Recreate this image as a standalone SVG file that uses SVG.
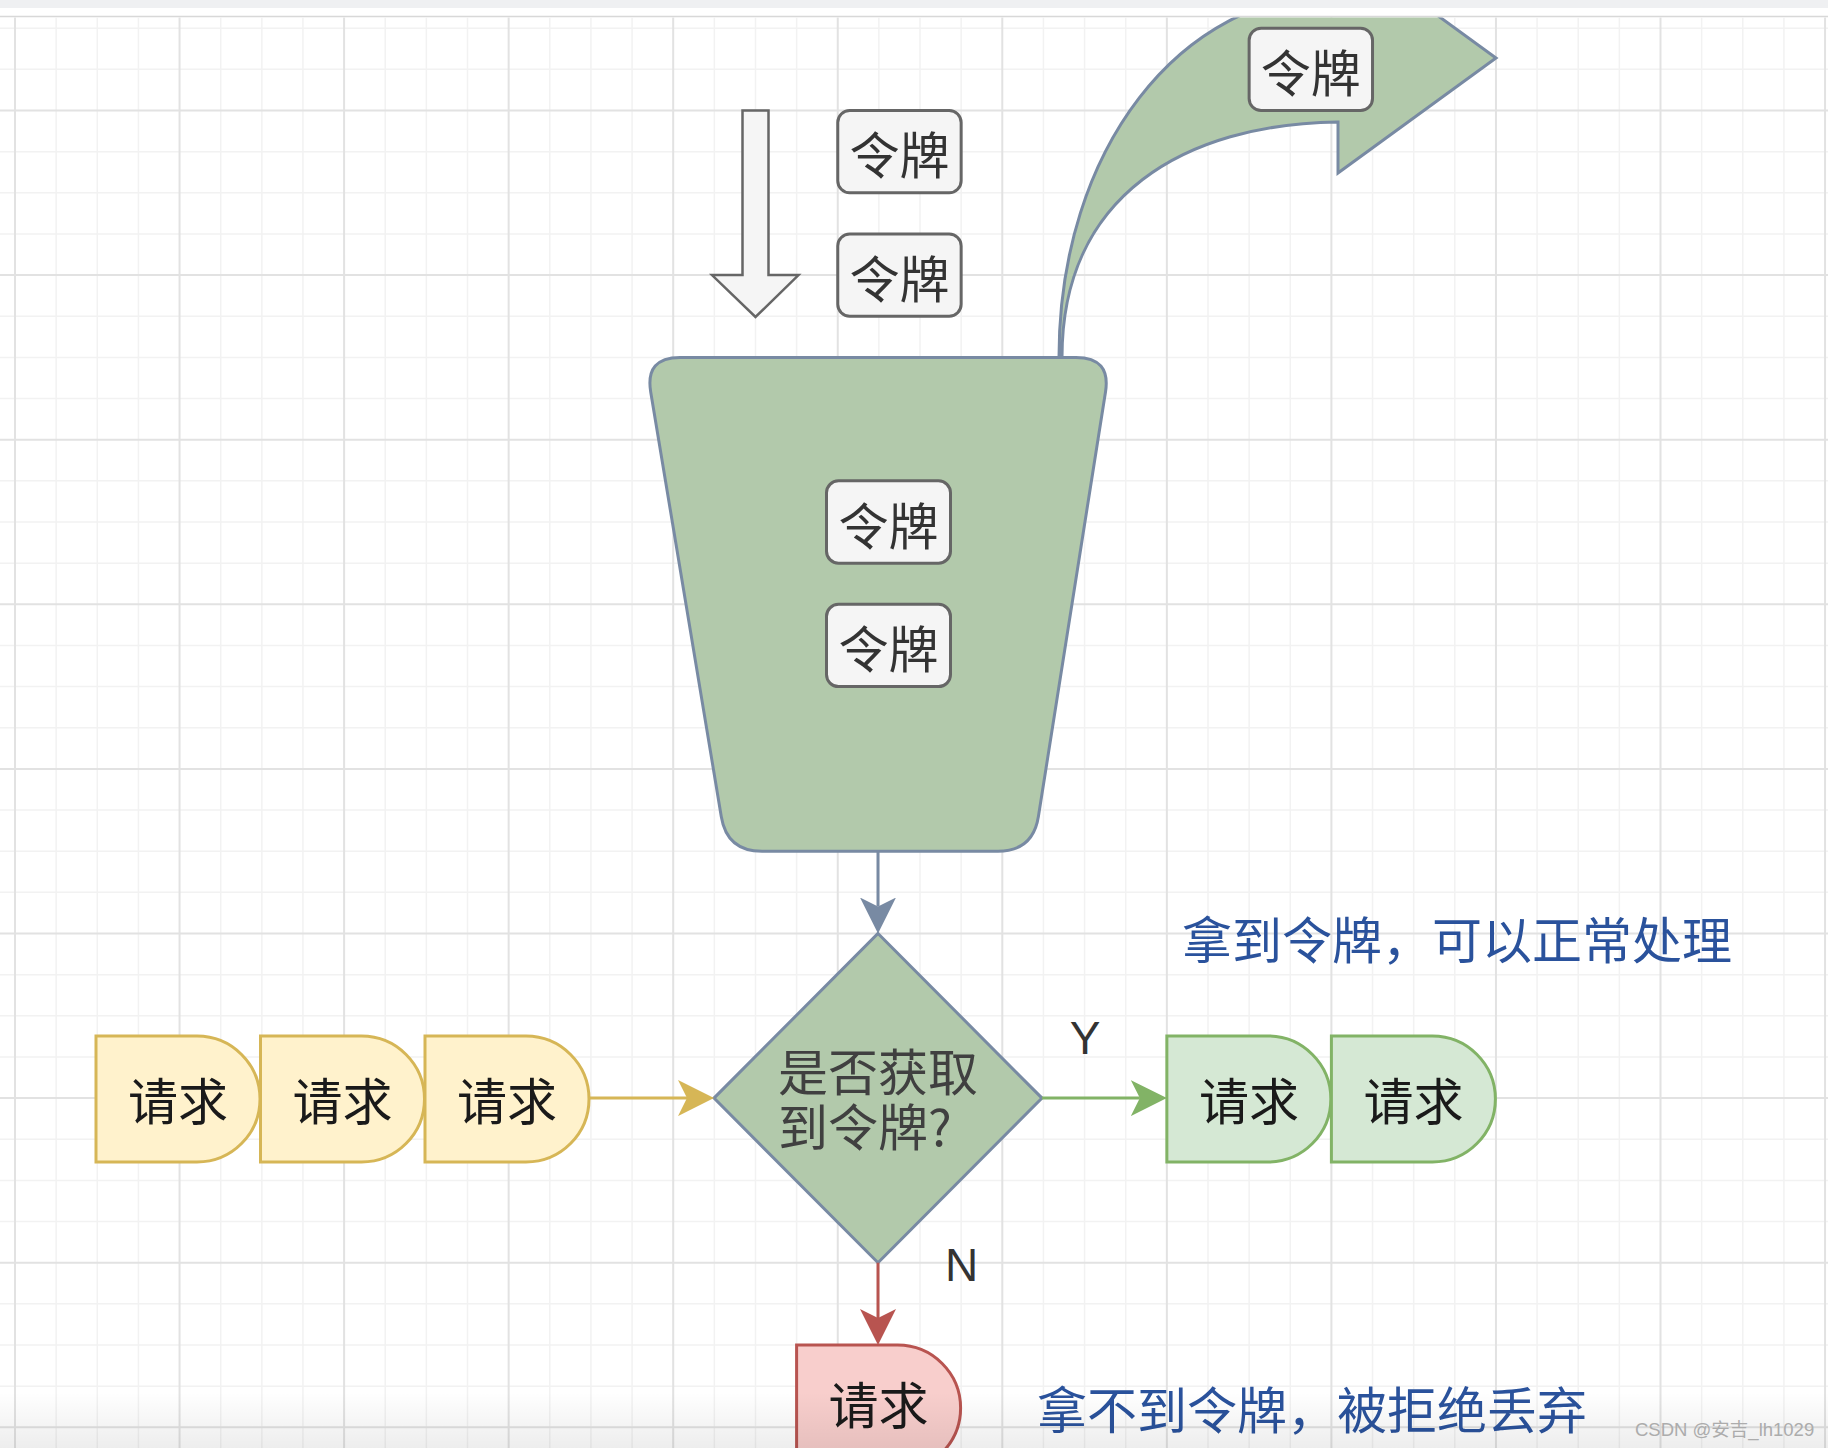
<svg xmlns="http://www.w3.org/2000/svg" width="1828" height="1448" viewBox="0 0 1828 1448">
  <style>
    .grid-minor { stroke: #f2f2f2; stroke-width: 1.5; fill: none; }
    .grid-major { stroke: #e2e2e2; stroke-width: 2; fill: none; }
    .token rect { fill: #f5f5f5; stroke: #666666; stroke-width: 3; }
    .token text { font-family: 'Noto Sans CJK SC', 'Noto Sans', sans-serif; font-size: 50px; fill: #333333; text-anchor: middle; }
    .req text { font-family: 'Noto Sans CJK SC', 'Noto Sans', sans-serif; font-size: 50px; fill: #1a1a1a; text-anchor: middle; }
    .req-y path { fill: #fff2cc; stroke: #d6b656; stroke-width: 3; }
    .req-g path { fill: #d5e8d4; stroke: #82b366; stroke-width: 3; }
    .req-r path { fill: #f8cecc; stroke: #b85450; stroke-width: 3; }
    .green-shape { fill: #b2c9ab; stroke: #788aa3; stroke-width: 3; }
    .note { font-family: 'Noto Sans CJK SC', 'Noto Sans', sans-serif; font-size: 50px; fill: #2a529c; }
    .lbl { font-family: 'Liberation Sans', Arial, sans-serif; font-size: 46px; fill: #333333; text-anchor: middle; }
    .conn { fill: none; stroke-width: 3; }
  </style>
  <defs>
    <clipPath id="canvasClip"><rect x="0" y="17.5" width="1828" height="1431"/></clipPath>
    <linearGradient id="bottomShade" x1="0" y1="0" x2="0" y2="1">
      <stop offset="0" stop-color="#000000" stop-opacity="0"/>
      <stop offset="1" stop-color="#000000" stop-opacity="0.07"/>
    </linearGradient>
    <marker id="mBlue" viewBox="0 0 36 36" markerWidth="36" markerHeight="36" refX="9" refY="18" orient="auto" markerUnits="userSpaceOnUse"><path d="M0,0 L36,18 L0,36 L9,18 Z" fill="#788aa3"/></marker>
    <marker id="mYellow" viewBox="0 0 36 36" markerWidth="36" markerHeight="36" refX="9" refY="18" orient="auto" markerUnits="userSpaceOnUse"><path d="M0,0 L36,18 L0,36 L9,18 Z" fill="#d6b656"/></marker>
    <marker id="mGreen" viewBox="0 0 36 36" markerWidth="36" markerHeight="36" refX="9" refY="18" orient="auto" markerUnits="userSpaceOnUse"><path d="M0,0 L36,18 L0,36 L9,18 Z" fill="#82b366"/></marker>
    <marker id="mRed" viewBox="0 0 36 36" markerWidth="36" markerHeight="36" refX="9" refY="18" orient="auto" markerUnits="userSpaceOnUse"><path d="M0,0 L36,18 L0,36 L9,18 Z" fill="#b85450"/></marker>
  </defs>

  <!-- background -->
  <rect x="0" y="0" width="1828" height="1448" fill="#ffffff"/>
  <rect x="0" y="0" width="1828" height="8" fill="#eff0f2"/>
  <line x1="0" y1="16.5" x2="1828" y2="16.5" stroke="#d8d8d8" stroke-width="1.5"/>

  <g id="grid" clip-path="url(#canvasClip)">
    <path class="grid-minor" d="M56.14,17V1448 M97.28,17V1448 M138.41,17V1448 M220.69,17V1448 M261.83,17V1448 M302.96,17V1448 M385.24,17V1448 M426.38,17V1448 M467.51,17V1448 M549.79,17V1448 M590.93,17V1448 M632.06,17V1448 M714.34,17V1448 M755.48,17V1448 M796.61,17V1448 M878.89,17V1448 M920.03,17V1448 M961.16,17V1448 M1043.44,17V1448 M1084.58,17V1448 M1125.71,17V1448 M1207.99,17V1448 M1249.13,17V1448 M1290.26,17V1448 M1372.54,17V1448 M1413.68,17V1448 M1454.81,17V1448 M1537.09,17V1448 M1578.23,17V1448 M1619.36,17V1448 M1701.64,17V1448 M1742.78,17V1448 M1783.91,17V1448
      M0,28.2H1828 M0,69.35H1828 M0,151.65H1828 M0,192.8H1828 M0,233.95H1828 M0,316.25H1828 M0,357.4H1828 M0,398.55H1828 M0,480.85H1828 M0,522H1828 M0,563.15H1828 M0,645.45H1828 M0,686.6H1828 M0,727.75H1828 M0,810.05H1828 M0,851.2H1828 M0,892.35H1828 M0,974.65H1828 M0,1015.8H1828 M0,1056.95H1828 M0,1139.25H1828 M0,1180.4H1828 M0,1221.55H1828 M0,1303.85H1828 M0,1345H1828 M0,1386.15H1828"/>
    <path class="grid-major" d="M15,17V1448 M179.55,17V1448 M344.1,17V1448 M508.65,17V1448 M673.2,17V1448 M837.75,17V1448 M1002.3,17V1448 M1166.85,17V1448 M1331.4,17V1448 M1495.95,17V1448 M1660.5,17V1448 M1825.05,17V1448
      M0,110.5H1828 M0,275.1H1828 M0,439.7H1828 M0,604.3H1828 M0,768.9H1828 M0,933.5H1828 M0,1098.1H1828 M0,1262.7H1828 M0,1427.3H1828"/>
  </g>

  <!-- curved output arrow -->
  <g id="curved-arrow" clip-path="url(#canvasClip)">
    <path class="green-shape" stroke-width="2.5" d="M1059,357.4 C1059,150 1180,-6 1338,-6 L1338,-57 L1496,58 L1338,173 L1338,122 C1185,124 1062,195 1062,357.4 Z"/>
  </g>

  <!-- incoming arrow -->
  <g id="down-arrow">
    <path d="M742.5,110.5 L768.5,110.5 L768.5,275.1 L798.5,275.1 L755.5,317 L712,275.1 L742.5,275.1 Z" fill="#f5f5f5" stroke="#666666" stroke-width="2.5" stroke-linejoin="miter"/>
  </g>

  <g id="token-in-1" class="token">
    <rect x="837.75" y="110.5" width="123.4" height="82.3" rx="12"/>
    <text x="899.5" y="174">令牌</text>
  </g>
  <g id="token-in-2" class="token">
    <rect x="837.75" y="233.95" width="123.4" height="82.3" rx="12"/>
    <text x="899.5" y="297.5">令牌</text>
  </g>
  <g id="token-out" class="token">
    <rect x="1249.13" y="28.2" width="123.4" height="82.3" rx="12"/>
    <text x="1310.8" y="91.8">令牌</text>
  </g>

  <!-- bucket -->
  <g id="bucket">
    <path class="green-shape" d="M680,357.4 L1076,357.4 Q1111,357.4 1105.5,391.9 L1038.4,816.6 Q1033,851.2 998,851.2 L762,851.2 Q727,851.2 721.3,816.7 L650.7,391.9 Q645,357.4 680,357.4 Z"/>
  </g>
  <g id="token-bucket-1" class="token">
    <rect x="826.5" y="480.85" width="124" height="82.3" rx="12"/>
    <text x="888.5" y="544.5">令牌</text>
  </g>
  <g id="token-bucket-2" class="token">
    <rect x="826.5" y="604.3" width="124" height="82.3" rx="12"/>
    <text x="888.5" y="668">令牌</text>
  </g>

  <!-- decision -->
  <g id="decision">
    <path class="green-shape" d="M878,933.5 L1042,1098.1 L878,1262.7 L714,1098.1 Z"/>
    <text font-family="'Noto Sans CJK SC', 'Noto Sans', sans-serif" font-size="50" fill="#404040"><tspan x="778" y="1091">是否获取</tspan><tspan x="778" y="1146">到令牌?</tspan></text>
  </g>

  <!-- waiting requests -->
  <g id="req-wait-1" class="req req-y">
    <path d="M96,1036 L197,1036 A63,63 0 0 1 197,1162 L96,1162 Z"/>
    <text x="178" y="1120">请求</text>
  </g>
  <g id="req-wait-2" class="req req-y">
    <path d="M260.5,1036 L361.5,1036 A63,63 0 0 1 361.5,1162 L260.5,1162 Z"/>
    <text x="342.5" y="1120">请求</text>
  </g>
  <g id="req-wait-3" class="req req-y">
    <path d="M425,1036 L526,1036 A63,63 0 0 1 526,1162 L425,1162 Z"/>
    <text x="507" y="1120">请求</text>
  </g>

  <!-- accepted requests -->
  <g id="req-ok-1" class="req req-g">
    <path d="M1166.85,1036 L1267.85,1036 A63,63 0 0 1 1267.85,1162 L1166.85,1162 Z"/>
    <text x="1249" y="1120">请求</text>
  </g>
  <g id="req-ok-2" class="req req-g">
    <path d="M1331.4,1036 L1432.4,1036 A63,63 0 0 1 1432.4,1162 L1331.4,1162 Z"/>
    <text x="1413.5" y="1120">请求</text>
  </g>

  <!-- rejected request -->
  <g id="req-reject" class="req req-r">
    <path d="M796.6,1345 L897.6,1345 A63,63 0 0 1 897.6,1471 L796.6,1471 Z"/>
    <text x="878.5" y="1424">请求</text>
  </g>

  <!-- connectors -->
  <g id="connectors">
    <path class="conn" stroke="#788aa3" d="M878,851.2 L878,906.5" marker-end="url(#mBlue)"/>
    <path class="conn" stroke="#d6b656" d="M589.5,1098.1 L687,1098.1" marker-end="url(#mYellow)"/>
    <path class="conn" stroke="#82b366" d="M1042,1098.1 L1139.85,1098.1" marker-end="url(#mGreen)"/>
    <path class="conn" stroke="#b85450" d="M878,1262.7 L878,1318" marker-end="url(#mRed)"/>
  </g>

  <!-- labels -->
  <g id="labels">
    <text class="lbl" x="1085" y="1054">Y</text>
    <text class="lbl" x="961.5" y="1281">N</text>
    <text class="note" x="1182" y="959">拿到令牌，可以正常处理</text>
    <text class="note" x="1037" y="1429">拿不到令牌，被拒绝丢弃</text>
  </g>

  <!-- bottom window shade -->
  <rect x="0" y="1392" width="1828" height="56" fill="url(#bottomShade)"/>

  <text x="1635" y="1436" font-family="'Liberation Sans', 'Noto Sans CJK SC', sans-serif" font-size="18.5" fill="#acacac">CSDN @安吉_lh1029</text>
</svg>
